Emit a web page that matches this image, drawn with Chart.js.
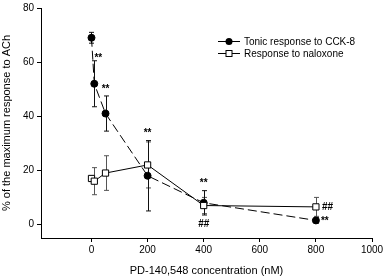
<!DOCTYPE html>
<html>
<head>
<meta charset="utf-8">
<script src="https://cdn.jsdelivr.net/npm/chart.js@4.4.1/dist/chart.umd.min.js"></script>
<style>
  html, body { margin: 0; padding: 0; background: #fff; }
  #wrap { width: 387px; height: 278px; }
</style>
</head>
<body>
<div id="wrap"><canvas id="grafico"></canvas></div>
<script>
// dados
const concCCK = [0, 10, 50, 200, 400, 800];
const valCCK = [69, 52, 41, 18, 8, 1.5];
const errCCK = [2, 8.5, 6.5, 13, 4.5, 1];
const sigCCK = ['', '**', '**', '**', '**', '**'];

const concNal = [0, 10, 50, 200, 400, 800];
const valNal = [17, 16, 19, 22, 7, 6.5];
const errNal = [1, 5, 6.4, 8.5, 3, 3.5];
const sigNal = ['', '', '', '', '##', '##'];

const xTicks = [0, 200, 400, 600, 800, 1000];
const yTicks = [0, 20, 40, 60, 80];

const nomeCCK = 'Tonic response to CCK-8';
const nomeNal = 'Response to naloxone';

const fonte = 'Liberation Sans, Arial, sans-serif';

function pontos(xs, ys) {
    let out = [];
    for (let i = 0; i < xs.length; i++) out.push({ x: xs[i], y: ys[i] });
    return out;
}

// barras de erro, asteriscos e legenda
const extras = {
    id: 'extras',
    beforeDatasetsDraw(chart) {
        const ctx = chart.ctx;
        const sx = chart.scales.x, sy = chart.scales.y;
        const series = [
            { xs: concNal, ys: valNal, es: errNal, cor: '#555' },
            { xs: concCCK, ys: valCCK, es: errCCK, cor: '#111' }
        ];
        ctx.save();
        ctx.lineWidth = 1;
        for (const s of series) {
            ctx.strokeStyle = s.cor;
            for (let i = 0; i < s.xs.length; i++) {
                const px = Math.round(sx.getPixelForValue(s.xs[i])) + 0.5;
                const top = sy.getPixelForValue(s.ys[i] + s.es[i]);
                const bot = sy.getPixelForValue(s.ys[i] - s.es[i]);
                ctx.beginPath();
                ctx.moveTo(px, top); ctx.lineTo(px, bot);
                ctx.moveTo(px - 2.5, top); ctx.lineTo(px + 2.5, top);
                ctx.moveTo(px - 2.5, bot); ctx.lineTo(px + 2.5, bot);
                ctx.stroke();
            }
        }
        ctx.restore();
    },
    afterDraw(chart) {
        const ctx = chart.ctx;
        const sx = chart.scales.x, sy = chart.scales.y;
        ctx.save();
        ctx.fillStyle = '#000';
        ctx.font = 'bold 10px ' + fonte;
        ctx.textBaseline = 'middle';
        const ultimo = concCCK.length - 1;
        for (let i = 0; i < concCCK.length; i++) {
            if (!sigCCK[i]) continue;
            const px = sx.getPixelForValue(concCCK[i]);
            if (i === ultimo) {
                ctx.textAlign = 'left';
                ctx.fillText(sigCCK[i], px + 5, sy.getPixelForValue(valCCK[i]) + 1);
            } else {
                ctx.textAlign = 'center';
                const dx = i === 1 ? 4 : 0;
                const dy = i === 1 ? -3 : -7;
                ctx.fillText(sigCCK[i], px + dx, sy.getPixelForValue(valCCK[i] + errCCK[i]) + dy);
            }
        }
        for (let i = 0; i < concNal.length; i++) {
            if (!sigNal[i]) continue;
            const px = sx.getPixelForValue(concNal[i]);
            if (i === ultimo) {
                ctx.textAlign = 'left';
                ctx.fillText(sigNal[i], px + 6, sy.getPixelForValue(valNal[i]));
            } else {
                ctx.textAlign = 'center';
                ctx.fillText(sigNal[i], px, sy.getPixelForValue(valNal[i] - errNal[i]) + 11);
            }
        }

        // legenda
        ctx.font = '10px ' + fonte;
        ctx.textAlign = 'left';
        ctx.lineWidth = 1;
        ctx.strokeStyle = '#000';
        const lx = 218, ly1 = 41, ly2 = 53;
        ctx.beginPath();
        ctx.moveTo(lx, ly1 + 0.5); ctx.lineTo(lx + 22, ly1 + 0.5);
        ctx.moveTo(lx, ly2 + 0.5); ctx.lineTo(lx + 22, ly2 + 0.5);
        ctx.stroke();
        ctx.beginPath();
        ctx.arc(lx + 11, ly1 + 0.5, 3.5, 0, Math.PI * 2);
        ctx.fill();
        ctx.fillStyle = '#fff';
        ctx.fillRect(lx + 8, ly2 - 2.5, 6, 6);
        ctx.strokeRect(lx + 8, ly2 - 2.5, 6, 6);
        ctx.fillStyle = '#000';
        ctx.fillText(nomeCCK, lx + 26, ly1 + 1);
        ctx.fillText(nomeNal, lx + 26, ly2 + 1);
        ctx.restore();
    }
};

window.onload = () => {
    new Chart(document.getElementById('grafico'), {
        type: 'scatter',
        data: {
            datasets: [
                {
                    label: nomeNal,
                    data: pontos(concNal, valNal),
                    showLine: true,
                    borderColor: '#000',
                    borderWidth: 1,
                    pointStyle: 'rect',
                    pointRadius: 4.4,
                    pointBackgroundColor: '#fff',
                    pointBorderColor: '#000',
                    pointBorderWidth: 1
                },
                {
                    label: nomeCCK,
                    data: pontos(concCCK, valCCK),
                    showLine: true,
                    borderColor: '#000',
                    borderWidth: 1,
                    borderDash: [9, 4],
                    pointStyle: 'circle',
                    pointRadius: 3.5,
                    pointBackgroundColor: '#000',
                    pointBorderColor: '#000'
                }
            ]
        },
        options: {
            responsive: true,
            maintainAspectRatio: false,
            animation: false,
            layout: { padding: { top: 8, right: 15, left: 0, bottom: 0 } },
            plugins: {
                legend: { display: false },
                tooltip: { enabled: false }
            },
            scales: {
                x: {
                    type: 'linear',
                    min: -180,
                    max: 1000,
                    afterBuildTicks: (s) => { s.ticks = xTicks.map(v => ({ value: v })); },
                    afterFit: (s) => { s.height = 40; s.paddingLeft = 0; s.paddingRight = 0; },
                    ticks: {
                        color: '#000',
                        font: { family: fonte, size: 10 },
                        padding: 2,
                        maxRotation: 0,
                        callback: (v) => String(v)
                    },
                    grid: { drawOnChartArea: false, drawTicks: true, tickLength: 4, color: '#000' },
                    border: { display: true, color: '#000', width: 1 },
                    title: {
                        display: true,
                        text: 'PD-140,548 concentration (nM)',
                        color: '#000',
                        font: { family: fonte, size: 11 },
                        padding: { top: 5, bottom: 0 }
                    }
                },
                y: {
                    min: -5,
                    max: 80,
                    afterBuildTicks: (s) => { s.ticks = yTicks.map(v => ({ value: v })); },
                    afterFit: (s) => { s.width = 41; s.paddingTop = 0; s.paddingBottom = 0; },
                    ticks: {
                        color: '#000',
                        font: { family: fonte, size: 10 },
                        padding: 3,
                        callback: (v) => String(v)
                    },
                    grid: { drawOnChartArea: false, drawTicks: true, tickLength: 4, color: '#000' },
                    border: { display: true, color: '#000', width: 1 },
                    title: {
                        display: true,
                        text: '% of the maximum response to ACh',
                        color: '#000',
                        font: { family: fonte, size: 11 },
                        padding: { top: 0, bottom: 2 }
                    }
                }
            }
        },
        plugins: [extras]
    });
};
</script>
</body>
</html>
